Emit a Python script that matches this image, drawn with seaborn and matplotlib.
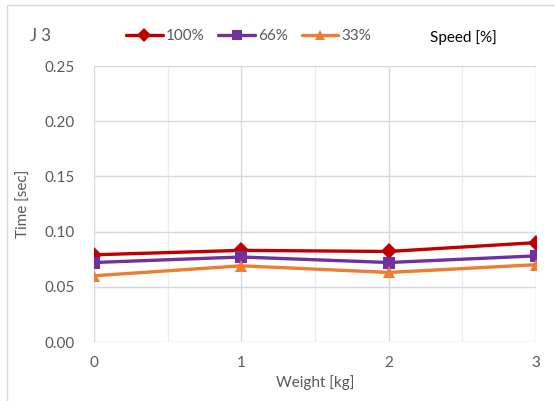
import matplotlib
matplotlib.use("Agg")
import matplotlib.pyplot as plt
import pandas as pd
import seaborn as sns
from matplotlib.patches import Rectangle

weights = [0, 1, 2, 3]
speed_100 = [0.079, 0.083, 0.082, 0.090]
speed_66 = [0.072, 0.077, 0.072, 0.078]
speed_33 = [0.060, 0.069, 0.063, 0.070]
speed_labels = ["100%", "66%", "33%"]
y_ticks = [0.00, 0.05, 0.10, 0.15, 0.20, 0.25]

df = pd.DataFrame({
    "Weight": weights * 3,
    "Time": speed_100 + speed_66 + speed_33,
    "Speed": [s for s in speed_labels for _ in weights],
})

sns.set_style("white")
plt.rcParams["font.family"] = ["Lato", "DejaVu Sans"]
grey = "#595959"

fig = plt.figure(figsize=(5.55, 4.01), dpi=100)
ax = fig.add_axes([94 / 555, 1 - 342 / 401, 442 / 555, 276 / 401])

palette = {"100%": "#C00000", "66%": "#7030A0", "33%": "#ED7D31"}
markers = {"100%": "D", "66%": "s", "33%": "^"}
sns.lineplot(data=df, x="Weight", y="Time", hue="Speed", style="Speed",
             palette=palette, markers=markers, dashes=False, linewidth=2.4,
             markersize=8, markeredgewidth=0, ax=ax, legend=True)

ax.set_xlim(0, 3)
ax.set_ylim(0, 0.25)
ax.set_yticks(y_ticks)
ax.set_yticklabels([f"{v:.2f}" for v in y_ticks])
ax.set_xticks(weights)
ax.set_xticks([0.5, 1.5, 2.5], minor=True)
ax.grid(True, which="major", color="#d9d9d9", linewidth=1.0)
ax.grid(True, which="minor", axis="x", color="#ececec", linewidth=1.0)
ax.set_axisbelow(True)
for s in ax.spines.values():
    s.set_visible(False)
ax.tick_params(axis="both", which="both", length=0, labelsize=11, labelcolor=grey)
ax.tick_params(axis="x", pad=10)
ax.tick_params(axis="y", pad=14)
ax.set_xlabel("Weight [kg]", fontsize=11, color=grey, labelpad=4)
ax.set_ylabel("Time [sec]", fontsize=11, color=grey, labelpad=10)

handles, labels = ax.get_legend_handles_labels()
ax.legend(handles, labels, loc="center left", bbox_to_anchor=(126 / 555, 1 - 36 / 401),
          bbox_transform=fig.transFigure, ncol=3, frameon=False, fontsize=11,
          handlelength=2.4, handletextpad=0.2, columnspacing=0.9, labelcolor=grey,
          borderaxespad=0, borderpad=0, markerscale=0.85)

fig.text(30 / 555, 1 - 36 / 401, "J 3", fontsize=12, color=grey, va="center", ha="left")
fig.text(430 / 555, 1 - 38 / 401, "Speed [%]", fontsize=11, color="black", va="center", ha="left")

fig.patches.append(Rectangle((7 / 555, -0.1), 1.1, 1 - 5 / 401 + 0.1, transform=fig.transFigure,
                             fill=False, edgecolor="#d9d9d9", linewidth=1.0))

fig.savefig("out.png", dpi=100)
